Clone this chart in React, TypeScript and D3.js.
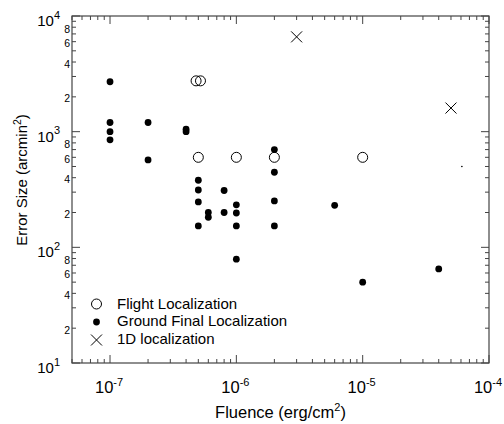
import React from "react";
import * as d3 from "d3";

const flightX = [4.8e-7, 5.2e-7, 5e-7, 1e-6, 2e-6, 1e-5];
const flightY = [2750, 2750, 600, 600, 600, 600];

const groundX = [1e-7, 1e-7, 1e-7, 1e-7, 2e-7, 2e-7, 4e-7, 4e-7, 5e-7, 5e-7, 5e-7, 5e-7, 6e-7, 6e-7, 8e-7, 8e-7, 1e-6, 1e-6, 1e-6, 1e-6, 2e-6, 2e-6, 2e-6, 2e-6, 6e-6, 1e-5, 4e-5];
const groundY = [2700, 1200, 1000, 850, 1200, 570, 1000, 1050, 380, 313, 247, 153, 200, 182, 310, 200, 233, 198, 153, 79, 700, 446, 252, 153, 231, 50, 65];

const oneDX = [3e-6, 5e-5];
const oneDY = [6600, 1600];

const strayX = [6.1e-5];
const strayY = [500];

const xMajor = [-7, -6, -5, -4];
const yMajor = [1, 2, 3, 4];
const yMinorLabels = [2, 4, 6, 8];
const legendLabels = ["Flight Localization", "Ground Final Localization", "1D localization"];

const W = 504, H = 424;
const L = 72, R = 489, T = 16, B = 363;
const FONT = "Liberation Sans, Arial, sans-serif";
const AX = "#444";

export default function App() {
  const x = d3.scaleLog().domain([5e-8, 1e-4]).range([L, R]);
  const y = d3.scaleLog().domain([10, 1e4]).range([B, T]);

  const xTicks: { v: number; major: boolean }[] = [];
  for (let e = -8; e <= -5; e++) {
    for (let m = 1; m <= 9; m++) {
      const v = m * Math.pow(10, e);
      if (v >= 5e-8 * 0.999 && v <= 1e-4 * 1.001) xTicks.push({ v, major: m === 1 });
    }
  }
  xTicks.push({ v: 1e-4, major: true });
  const yTicks: { v: number; major: boolean; m: number }[] = [];
  for (let e = 1; e <= 3; e++) {
    for (let m = 1; m <= 9; m++) yTicks.push({ v: m * Math.pow(10, e), major: m === 1, m });
  }
  yTicks.push({ v: 1e4, major: true, m: 1 });

  const maj = 8, mnr = 4;

  return (
    <svg width={W} height={H} style={{ position: "absolute", left: 0, top: 0 }} fontFamily={FONT}>
      <rect x={0} y={0} width={W} height={H} fill="#fff" />
      <rect x={L} y={T} width={R - L} height={B - T} fill="none" stroke={AX} strokeWidth={1.2} />
      {xTicks.map((t, i) => {
        const px = x(t.v);
        const len = t.major ? maj : mnr;
        return (
          <g key={"xt" + i}>
            <line x1={px} x2={px} y1={B} y2={B - len} stroke={AX} strokeWidth={1} />
            <line x1={px} x2={px} y1={T} y2={T + len} stroke={AX} strokeWidth={1} />
          </g>
        );
      })}
      {yTicks.map((t, i) => {
        const py = y(t.v);
        const len = t.major ? maj : mnr;
        return (
          <g key={"yt" + i}>
            <line x1={L} x2={L + len} y1={py} y2={py} stroke={AX} strokeWidth={1} />
            <line x1={R} x2={R - len} y1={py} y2={py} stroke={AX} strokeWidth={1} />
          </g>
        );
      })}
      {xMajor.map((e) => (
        <text key={"xl" + e} x={x(Math.pow(10, e)) - 1} y={393} textAnchor="middle" fontSize={16.5} fill="#000">
          10<tspan dy={-7.5} fontSize={11}>{e}</tspan>
        </text>
      ))}
      {yMajor.map((e) => (
        <text key={"yl" + e} x={60} y={y(Math.pow(10, e)) + 10} textAnchor="end" fontSize={15} fill="#000">
          10<tspan dy={-7.5} fontSize={11}>{e}</tspan>
        </text>
      ))}
      {yMajor.slice(0, 3).map((e) =>
        yMinorLabels.map((m) => (
          <text key={"ym" + e + m} x={70} y={y(m * Math.pow(10, e)) + 5.5} textAnchor="end" fontSize={10.5} fill="#000">
            {m}
          </text>
        ))
      )}
      <text x={280.5} y={417.5} textAnchor="middle" fontSize={16.5} fill="#000">
        Fluence (erg/cm<tspan dy={-7} fontSize={11}>2</tspan><tspan dy={7}>)</tspan>
      </text>
      <text transform={`translate(27,180) rotate(-90)`} textAnchor="middle" fontSize={15} fill="#000">
        Error Size (arcmin<tspan dy={-6.5} fontSize={10.5}>2</tspan><tspan dy={6.5}>)</tspan>
      </text>
      {groundX.map((v, i) => (
        <circle key={"g" + i} cx={x(v)} cy={y(groundY[i])} r={3.4} fill="#000" />
      ))}
      {flightX.map((v, i) => (
        <circle key={"f" + i} cx={x(v)} cy={y(flightY[i])} r={5} fill="none" stroke="#000" strokeWidth={1} />
      ))}
      {oneDX.map((v, i) => {
        const cx = x(v), cy = y(oneDY[i]), s = 5.5;
        return (
          <path key={"o" + i} d={`M${cx - s},${cy - s}L${cx + s},${cy + s}M${cx - s},${cy + s}L${cx + s},${cy - s}`} stroke="#000" strokeWidth={1} />
        );
      })}
      {strayX.map((v, i) => (
        <circle key={"s" + i} cx={x(v)} cy={y(strayY[i])} r={0.8} fill="#000" />
      ))}
      <g>
        <circle cx={96.5} cy={304} r={5} fill="none" stroke="#000" />
        <circle cx={96.5} cy={322} r={3.4} fill="#000" />
        <path d={`M${91},${334.5}L${102},${345.5}M${91},${345.5}L${102},${334.5}`} stroke="#000" />
        {legendLabels.map((t, i) => (
          <text key={"lg" + i} x={117} y={308.5 + i * 17.5} fontSize={15} fill="#000">{t}</text>
        ))}
      </g>
    </svg>
  );
}
